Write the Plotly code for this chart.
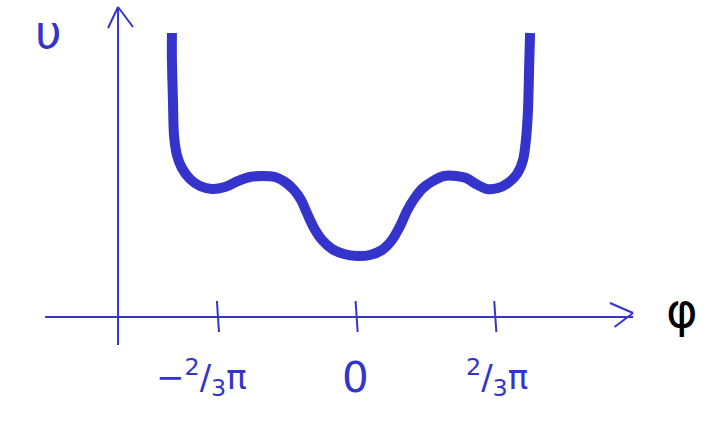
import plotly.graph_objects as go

# Potential V(phi): phi in units of pi, V in arbitrary units
phi = [-0.885, -0.885, -0.880, -0.875, -0.861, -0.837, -0.798, -0.750, -0.692, -0.630,
       -0.567, -0.510, -0.452, -0.389, -0.341, -0.298, -0.264, -0.236, -0.202, -0.163,
       -0.115, -0.058, 0.005, 0.067, 0.125, 0.173, 0.212, 0.245, 0.279, 0.322,
       0.370, 0.423, 0.481, 0.529, 0.577, 0.630, 0.683, 0.731, 0.774, 0.803,
       0.817, 0.827, 0.832, 0.837]
V = [2.84, 2.57, 2.17, 1.82, 1.62, 1.49, 1.38, 1.31, 1.28, 1.30,
     1.36, 1.40, 1.41, 1.40, 1.35, 1.27, 1.17, 1.04, 0.89, 0.77,
     0.68, 0.63, 0.61, 0.62, 0.67, 0.77, 0.91, 1.06, 1.18, 1.29,
     1.36, 1.41, 1.41, 1.39, 1.33, 1.28, 1.29, 1.34, 1.43, 1.57,
     1.77, 2.07, 2.47, 2.84]

tick_vals = [-2 / 3, 0, 2 / 3]
tick_text = ["−<sup>2</sup>/<sub>3</sub>π", "0", "<sup>2</sup>/<sub>3</sub>π"]
tick_shift = [-16, 0, 2]

BLUE = "rgb(52,52,204)"
FONT = "DejaVu Sans"

fig = go.Figure()
fig.add_trace(go.Scatter(x=phi, y=V, mode="lines",
                         line=dict(color=BLUE, width=10, shape="spline", smoothing=0.8),
                         hoverinfo="skip", showlegend=False))

# hand-drawn axes
y_axis_x = -1.144
x_axis_end = 1.332
line = dict(color=BLUE, width=2)
shapes = [
    dict(type="line", x0=y_axis_x, x1=y_axis_x, y0=-0.28, y1=3.10, line=line),
    dict(type="line", x0=y_axis_x, x1=-1.192, y0=3.10, y1=2.89, line=line),
    dict(type="line", x0=y_axis_x, x1=-1.072, y0=3.10, y1=2.90, line=line),
    dict(type="line", x0=-1.495, x1=x_axis_end, y0=0, y1=0, line=line),
    dict(type="line", x0=1.221, x1=x_axis_end, y0=0.14, y1=0.04, line=line),
    dict(type="line", x0=1.243, x1=x_axis_end, y0=-0.10, y1=0.04, line=line),
]
for t in tick_vals:
    shapes.append(dict(type="line", x0=t - 0.002, x1=t + 0.008, y0=0.16, y1=-0.15, line=line))

annotations = []
for t, txt, s in zip(tick_vals, tick_text, tick_shift):
    annotations.append(dict(x=t, y=-0.60, text=txt, showarrow=False, xshift=s,
                            font=dict(family=FONT, size=42 if txt == "0" else 34, color=BLUE)))
annotations.append(dict(x=-1.48, y=2.85, text="υ", showarrow=False,
                        font=dict(family=FONT, size=46, color=BLUE)))
annotations.append(dict(x=1.565, y=0.07, text="φ", showarrow=False,
                        font=dict(family=FONT, size=48, color="black")))

fig.update_layout(
    width=717, height=421,
    margin=dict(l=0, r=0, t=0, b=0),
    paper_bgcolor="white", plot_bgcolor="white",
    xaxis=dict(range=[-1.7115, 1.7356], visible=False, fixedrange=True),
    yaxis=dict(range=[-1.04, 3.17], visible=False, fixedrange=True),
    shapes=shapes, annotations=annotations,
)

fig.write_html("out.html")
